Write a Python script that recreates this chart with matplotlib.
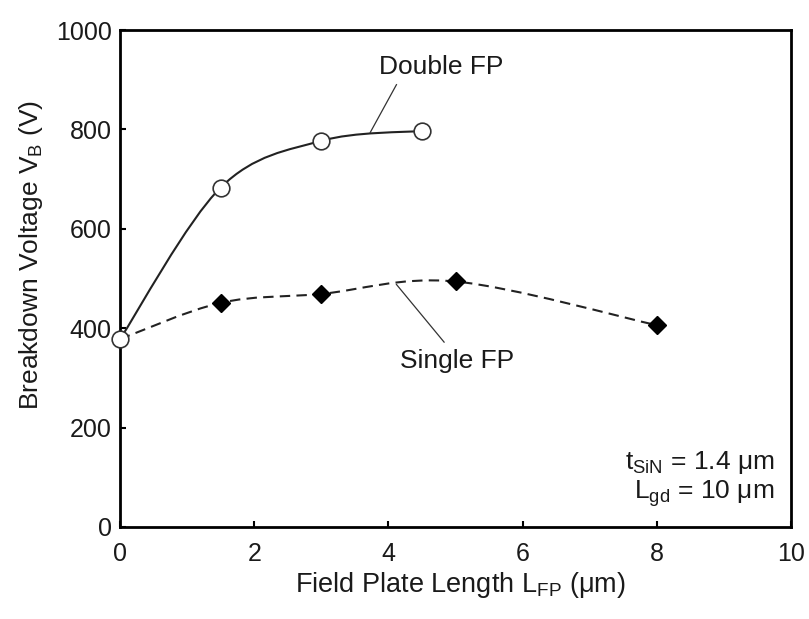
import numpy as np
import matplotlib
matplotlib.use("Agg")
import matplotlib.pyplot as plt
from matplotlib.path import Path
from matplotlib.patches import PathPatch

plt.rcParams['font.family'] = ['Liberation Sans', 'DejaVu Sans']
plt.rcParams['mathtext.fontset'] = 'custom'
plt.rcParams['mathtext.rm'] = 'Liberation Sans'
plt.rcParams['mathtext.it'] = 'Liberation Sans'

# Data
double_x = [0, 1.5, 3, 4.5]
double_y = [378, 683, 777, 797]
single_x = [0, 1.5, 3, 5, 8]
single_y = [378, 451, 469, 494, 406]
x_ticks = [0, 2, 4, 6, 8, 10]
y_ticks = [0, 200, 400, 600, 800, 1000]


def smooth_path(xs, ys):
    pts = np.column_stack([xs, ys]).astype(float)
    n = len(pts)
    verts = [pts[0]]
    codes = [Path.MOVETO]
    for i in range(n - 1):
        p0 = pts[i - 1] if i > 0 else pts[i]
        p1 = pts[i]
        p2 = pts[i + 1]
        p3 = pts[i + 2] if i + 2 < n else pts[i + 1]
        c1 = p1 + (p2 - p0) / 6.0
        c2 = p2 - (p3 - p1) / 6.0
        verts += [c1, c2, p2]
        codes += [Path.CURVE4] * 3
    return Path(verts, codes)


TXT = '#1a1a1a'
fig = plt.figure(figsize=(8.09, 6.19), dpi=100)
ax = fig.add_axes([120 / 809, 1 - 527 / 619, (791 - 120) / 809, (527 - 30) / 619])

ax.add_patch(PathPatch(smooth_path(double_x, double_y), fill=False,
                       edgecolor='#222222', lw=1.5, zorder=2))
ax.add_patch(PathPatch(smooth_path(single_x, single_y), fill=False,
                       edgecolor='#222222', lw=1.5, linestyle=(0, (5, 3)), zorder=2))

ax.plot(single_x[1:], single_y[1:], linestyle='none', marker='D', markersize=9,
        color='black', zorder=3)
ax.plot(double_x, double_y, linestyle='none', marker='o', markersize=12,
        markerfacecolor='white', markeredgecolor='#333333', markeredgewidth=1.2,
        zorder=4, clip_on=False)

ax.set_xlim(0, 10)
ax.set_ylim(0, 1000)
ax.set_xticks(x_ticks)
ax.set_yticks(y_ticks)
ax.tick_params(direction='in', length=4, width=1.5, labelsize=18,
               top=False, right=False, labelcolor=TXT)
ax.tick_params(axis='x', pad=11)
ax.tick_params(axis='y', pad=6)
for s in ax.spines.values():
    s.set_linewidth(2.0)

ax.set_xlabel(r'Field Plate Length L$_\mathregular{FP}$ ($\mathregular{\mu}$m)',
              fontsize=19.5, color=TXT)
ax.xaxis.set_label_coords((460 - 120) / 671, (527 - 570) / 497)
ax.set_ylabel(r'Breakdown Voltage V$_\mathregular{B}$ (V)', fontsize=19,
              color=TXT)
ax.yaxis.set_label_coords((45 - 120) / 671, (527 - 255) / 497)

ax.text(4.78, 925, 'Double FP', fontsize=19, ha='center', va='center', color=TXT)
ax.plot([4.12, 3.73], [890, 794], color='#333333', lw=0.9)
ax.text(5.02, 334, 'Single FP', fontsize=19, ha='center', va='center', color=TXT)
ax.plot([4.83, 4.12], [372, 488], color='#333333', lw=0.9)

ax.text(9.75, 129, r't$_\mathregular{SiN}$ = 1.4 $\mathregular{\mu}$m', fontsize=19,
        ha='right', va='center', color=TXT)
ax.text(9.75, 67, r'L$_\mathregular{gd}$ = 10 $\mathregular{\mu}$m', fontsize=19,
        ha='right', va='center', color=TXT)

fig.savefig('out.png', dpi=100)
